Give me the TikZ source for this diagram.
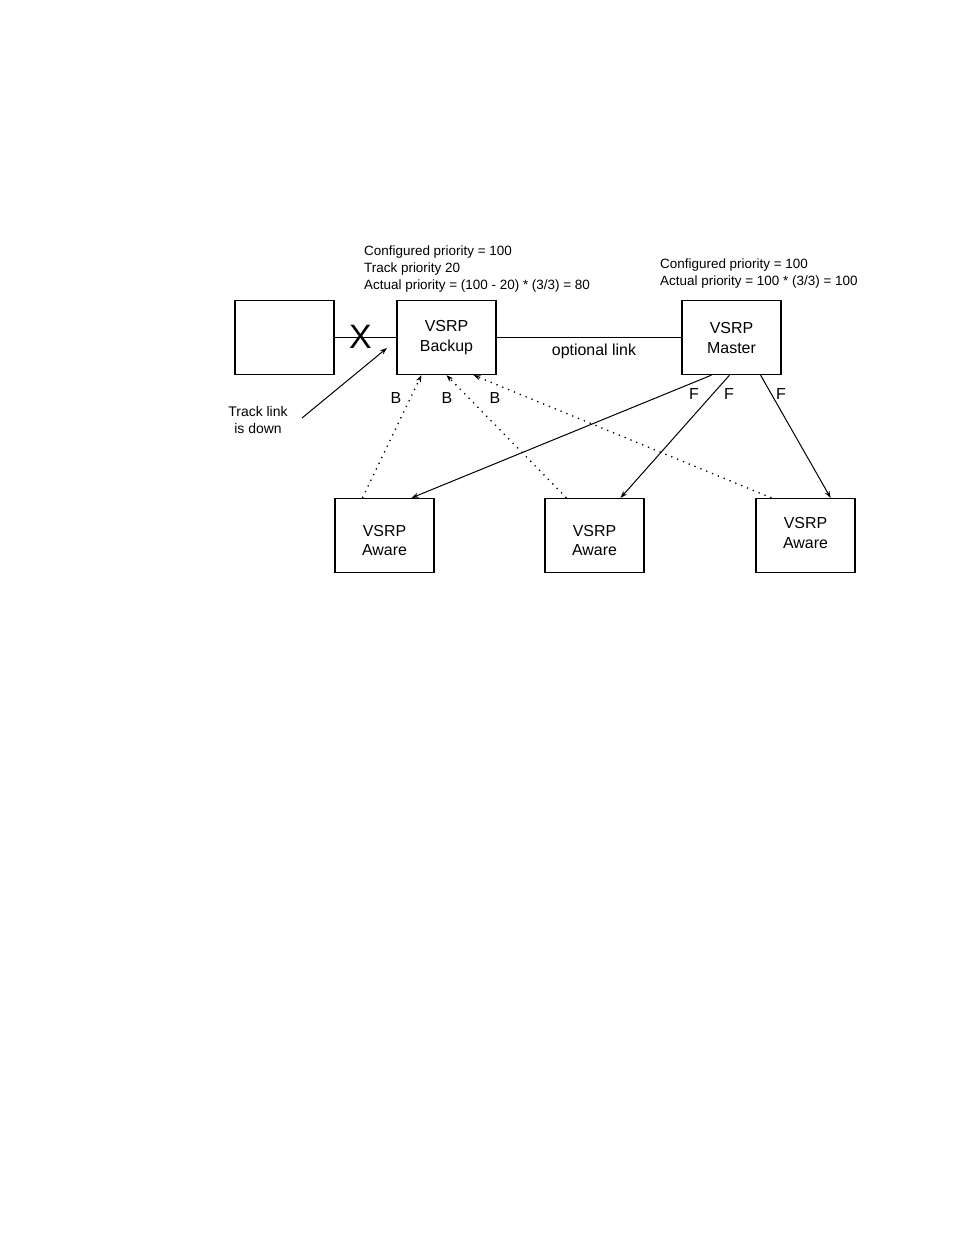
\documentclass[tikz,border=0pt]{standalone}
\usepackage{fontspec}
\setmainfont{Liberation Sans}
\usetikzlibrary{arrows.meta,calc}
\begin{document}
\begin{tikzpicture}[x=1bp,y=-1bp,
  box/.style={draw,line width=1.3bp,minimum width=99bp,minimum height=74bp,inner sep=0pt},
  txt/.style={align=center,font=\fontsize{16}{19.5}\selectfont},
  note/.style={align=left,anchor=north west,inner sep=0pt,font=\fontsize{13.5}{17}\selectfont},
  lbl/.style={font=\fontsize{16}{18}\selectfont,inner sep=0pt},
  link/.style={line width=1bp},
  farrow/.style={line width=1bp,-{Stealth[length=7bp,width=5bp]}},
  barrow/.style={line width=1.3bp,dash pattern=on 1.3bp off 5bp,-{Stealth[length=7bp,width=5bp]}}
]
\useasboundingbox (0,0) rectangle (954,1235);
% boxes
\node[box] (lb) at (284.5,337.5) {};
\node[box] (bk) at (446.5,337.5) {};
\node[box] (ms) at (731.5,337.5) {};
\node[box] (aw1) at (384.5,535.5) {};
\node[box] (aw2) at (594.5,535.5) {};
\node[box] (aw3) at (805.5,535.5) {};
\node[txt] (bkt) at (446.5,337.5) {VSRP\\Backup};
\node[txt] (mst) at (731.5,338) {VSRP\\Master};
\node[txt] (aw1t) at (384.5,540.5) {VSRP\\Aware};
\node[txt] (aw2t) at (594.5,540.5) {VSRP\\Aware};
\node[txt] (aw3t) at (805.5,533) {VSRP\\Aware};
% annotations
\node[note] (bkn) at (364,245.5) {Configured priority = 100\\Track priority 20\\Actual priority = (100 - 20) * (3/3) = 80};
\node[note] (msn) at (660,258.5) {Configured priority = 100\\Actual priority = 100 * (3/3) = 100};
% links
\draw[link] (lb.east) -- (bk.west);
\draw[link] (bk.east) -- (ms.west);
\node[font=\fontsize{34}{34}\selectfont,inner sep=0pt] (x) at (360.5,337) {X};
\node[lbl] (opt) at (594,351) {optional link};
\node[align=center,font=\fontsize{14}{17}\selectfont,inner sep=0pt] (trk) at (258,420) {Track link\\is down};
\coordinate (trks) at (302,418);
\coordinate (trke) at (387,348);
\draw[farrow] (trks) -- (trke);
% backup arrows (dotted)
\draw[barrow] ($(aw1.north west)!0.28!(aw1.north east)$) -- ($(bk.south west)!0.25!(bk.south east)$);
\draw[barrow] ($(aw2.north west)!0.22!(aw2.north east)$) -- ($(bk.south west)!0.5!(bk.south east)$);
\draw[barrow] ($(aw3.north west)!0.16!(aw3.north east)$) -- ($(bk.south west)!0.77!(bk.south east)$);
% forwarding arrows
\draw[farrow] ($(ms.south west)!0.30!(ms.south east)$) -- ($(aw1.north west)!0.77!(aw1.north east)$);
\draw[farrow] ($(ms.south west)!0.48!(ms.south east)$) -- ($(aw2.north west)!0.76!(aw2.north east)$);
\draw[farrow] ($(ms.south west)!0.79!(ms.south east)$) -- ($(aw3.north west)!0.75!(aw3.north east)$);
% labels
\node[lbl] (b1) at (396,398) {B};
\node[lbl] (b2) at (447,398) {B};
\node[lbl] (b3) at (495,398) {B};
\node[lbl] (f1) at (694,394) {F};
\node[lbl] (f2) at (729,394) {F};
\node[lbl] (f3) at (781,394) {F};
\end{tikzpicture}
\end{document}
